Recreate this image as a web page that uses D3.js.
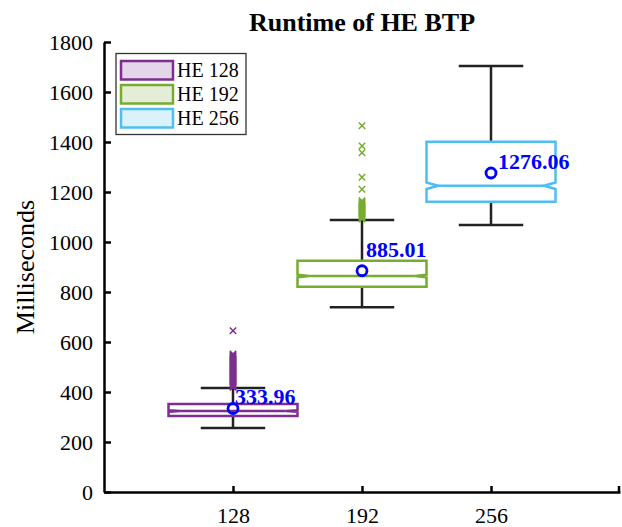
<!DOCTYPE html>
<html>
<head>
<script src="https://d3js.org/d3.v7.min.js"></script>
<style>
body { margin: 0; background: #fff; }
svg text { font-family: "Liberation Serif", "Times New Roman", serif; }
.axis path, .axis line { stroke: #000; stroke-width: 2.5; }
.axis text { font-size: 22px; fill: #000; }
</style>
</head>
<body>
<svg id="chart" width="622" height="527"></svg>
<script>
// boxplot stats (milliseconds)
var categories = ["128", "192", "256"];
var legendNames = ["HE 128", "HE 192", "HE 256"];
var q1 = [304, 821, 1161];
var medians = [324, 864, 1225];
var q3 = [352, 925, 1401];
var notchLow = [321, 859, 1212];
var notchHigh = [327, 869, 1238];
var whiskerLow = [256, 739, 1068];
var whiskerHigh = [416, 1088, 1704];
var means = [333.96, 885.01, 1276.06];
var yTicks = [0, 200, 400, 600, 800, 1000, 1200, 1400, 1600, 1800];

// outliers (the dense bands are estimated)
var outliers128 = [419, 423, 427, 431, 435, 439, 443, 447, 451, 455, 459, 463, 467, 471, 475,
  479, 483, 487, 491, 495, 499, 503, 507, 511, 515, 519, 523, 527, 531, 535, 539, 543, 547, 552, 645];
var outliers192 = [1092, 1096, 1100, 1104, 1108, 1112, 1116, 1120, 1124, 1128, 1132, 1136, 1140,
  1144, 1148, 1152, 1156, 1160, 1165, 1211, 1259, 1357, 1384, 1465];
var outliers256 = [];
var outliers = [outliers128, outliers192, outliers256];

var colors = ["#7E2F8E", "#77AC30", "#4DBEEE"];
var tints = ["#E5D5E8", "#E4EED6", "#DBF2FC"];

var svg = d3.select("#chart");
var x = d3.scaleLinear().domain([0, 4]).range([104, 620]);
var y = d3.scaleLinear().domain([0, 1800]).range([492, 42]);

// axes, ticks pointing inward like matlab
var xAxis = d3.axisBottom(x).tickValues([1, 2, 3])
  .tickFormat(function(d) { return categories[d - 1]; })
  .tickSizeInner(-6).tickSizeOuter(0).tickPadding(15);
var gx = svg.append("g").attr("class", "axis")
  .attr("transform", "translate(0," + y(0) + ")").call(xAxis);
// little tick at the far end
gx.append("line").attr("x1", x(4) - 1).attr("x2", x(4) - 1).attr("y1", 0).attr("y2", -6);

var yAxis = d3.axisLeft(y).tickValues(yTicks).tickFormat(d3.format("d"))
  .tickSizeInner(-7).tickSizeOuter(0).tickPadding(11);
svg.append("g").attr("class", "axis")
  .attr("transform", "translate(" + x(0) + ",0)").call(yAxis);

svg.append("text")
  .attr("x", 362).attr("y", 31)
  .attr("text-anchor", "middle")
  .style("font-size", "26px").style("font-weight", "bold")
  .text("Runtime of HE BTP");

svg.append("text")
  .attr("transform", "translate(34,267) rotate(-90)")
  .attr("text-anchor", "middle")
  .style("font-size", "26px")
  .text("Milliseconds");

var boxHalf = 0.5, capHalf = 0.25, notchIn = 0.09;

categories.forEach(function(c, i) {
  var cx = i + 1;
  var g = svg.append("g");

  // whiskers
  g.append("line").attr("x1", x(cx)).attr("x2", x(cx))
    .attr("y1", y(q3[i])).attr("y2", y(whiskerHigh[i]))
    .attr("stroke", "#222").attr("stroke-width", 2.5);
  g.append("line").attr("x1", x(cx)).attr("x2", x(cx))
    .attr("y1", y(q1[i])).attr("y2", y(whiskerLow[i]))
    .attr("stroke", "#222").attr("stroke-width", 2.5);
  [whiskerHigh[i], whiskerLow[i]].forEach(function(v) {
    g.append("line").attr("x1", x(cx - capHalf)).attr("x2", x(cx + capHalf))
      .attr("y1", y(v)).attr("y2", y(v))
      .attr("stroke", "#222").attr("stroke-width", 2.5);
  });

  // outlier crosses
  g.selectAll(".out").data(outliers[i]).enter().append("path")
    .attr("d", function(d) {
      var px = x(cx), py = y(d), s = 3.2;
      return "M" + (px - s) + "," + (py - s) + "L" + (px + s) + "," + (py + s) +
        "M" + (px - s) + "," + (py + s) + "L" + (px + s) + "," + (py - s);
    })
    .attr("stroke", colors[i]).attr("stroke-width", 1.5).attr("fill", "none");

  // notched box
  var l = x(cx - boxHalf), r = x(cx + boxHalf);
  var nl = x(cx - boxHalf + notchIn), nr = x(cx + boxHalf - notchIn);
  var pts = [[l, y(q1[i])], [l, y(notchLow[i])], [nl, y(medians[i])], [l, y(notchHigh[i])],
    [l, y(q3[i])], [r, y(q3[i])], [r, y(notchHigh[i])], [nr, y(medians[i])],
    [r, y(notchLow[i])], [r, y(q1[i])]];
  g.append("path").attr("d", d3.line()(pts) + "Z")
    .attr("fill", "none").attr("stroke", colors[i]).attr("stroke-width", 2.5);
  g.append("line").attr("x1", nl).attr("x2", nr)
    .attr("y1", y(medians[i])).attr("y2", y(medians[i]))
    .attr("stroke", colors[i]).attr("stroke-width", 2.5);
});

// mean markers and labels
var labelDx = [2, 4, 7], labelDy = [-5, -14, -4];
categories.forEach(function(c, i) {
  svg.append("circle").attr("cx", x(i + 1)).attr("cy", y(means[i])).attr("r", 5)
    .attr("fill", "none").attr("stroke", "#0000FF").attr("stroke-width", 2.8);
  svg.append("text")
    .attr("x", x(i + 1) + labelDx[i]).attr("y", y(means[i]) + labelDy[i])
    .style("font-size", "22px").style("font-weight", "bold").attr("fill", "#0000FF")
    .text(means[i].toFixed(2));
});

// legend
var lg = svg.append("g");
lg.append("rect").attr("x", 116).attr("y", 53.5).attr("width", 130).attr("height", 81)
  .attr("fill", "#fff").attr("stroke", "#333").attr("stroke-width", 1.3);
legendNames.forEach(function(n, i) {
  lg.append("rect").attr("x", 121).attr("y", 61 + i * 24).attr("width", 52).attr("height", 18.5)
    .attr("fill", tints[i]).attr("stroke", colors[i]).attr("stroke-width", 2.5);
  lg.append("text").attr("x", 177).attr("y", 77 + i * 24)
    .style("font-family", "'Liberation Serif', serif")
    .style("font-size", "20px").text(n);
});
</script>
</body>
</html>
